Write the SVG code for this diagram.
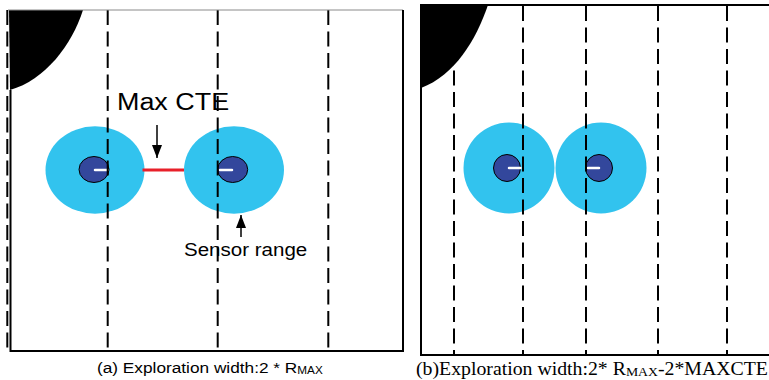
<svg xmlns="http://www.w3.org/2000/svg" width="769" height="380" viewBox="0 0 769 380">
<defs>
<style>
.dash{stroke:#000;stroke-width:2;stroke-dasharray:15 6.5;fill:none}
.border{stroke:#000;stroke-width:2;fill:none}
.range{fill:#32C3EE}
.robot{fill:#33479C;stroke:#000;stroke-width:1}
.head{stroke:#fff;stroke-width:2.5;stroke-linecap:round}
.obst{fill:#000}
.sans{font-family:"Liberation Sans",Arial,sans-serif;fill:#000}
.serif{font-family:"Liberation Serif","Times New Roman",serif;fill:#000}
.arrow{stroke:#000;stroke-width:1.5;fill:none}
.cte{stroke:#E8202A;stroke-width:3;fill:none}
</style>
<marker id="ah" viewBox="0 0 13 10" refX="13" refY="5" markerWidth="13" markerHeight="10" markerUnits="userSpaceOnUse" orient="auto">
<path d="M0,0 L13,5 L0,10 Z" fill="#000"/>
</marker>
</defs>
<rect x="0" y="0" width="769" height="380" fill="#fff"/>

<g id="panel-a">
<path id="obstacle-a" class="obst" d="M9,10 H83 C72,45 45,80 10,90 Z"/>
<g id="range-a1"><ellipse class="range" cx="95" cy="170" rx="49.5" ry="43.7"/></g>
<g id="range-a2"><ellipse class="range" cx="234" cy="170" rx="50" ry="43.7"/></g>
<g id="robot-a1"><ellipse class="robot" cx="94" cy="169.5" rx="15" ry="13"/><line class="head" x1="95" y1="170" x2="107.5" y2="170"/></g>
<g id="robot-a2"><ellipse class="robot" cx="232.7" cy="169.5" rx="15" ry="13"/><line class="head" x1="220" y1="170" x2="232" y2="170"/></g>
<text id="label-maxcte" class="sans" font-size="23" transform="translate(117,110) scale(1.17,1)">Max CTE</text>
<text id="label-sensor" class="sans" font-size="18.5" transform="translate(184,255.5) scale(1.11,1)">Sensor range</text>
<g id="lanes-a">
<line class="dash" x1="7.3" y1="10" x2="7.3" y2="350"/>
<line class="dash" x1="107.7" y1="10" x2="107.7" y2="350"/>
<line class="dash" x1="217.7" y1="10" x2="217.7" y2="350"/>
<line class="dash" x1="328.3" y1="10" x2="328.3" y2="350"/>
</g>
<line x1="8" y1="10" x2="403" y2="10" stroke="#8a8a8a" stroke-width="1"/>
<path class="border" d="M10.5,90 V351 H403 V10"/>
<text id="caption-a" class="sans" font-size="15.4" transform="translate(97,373) scale(1.12,1)">(a) Exploration width:2 * R<tspan font-size="10.5" dy="1">MAX</tspan></text>
</g>

<g id="panel-b">
<path id="obstacle-b" class="obst" d="M421,5 H488 C476,40 455,75 421,88 Z"/>
<g id="range-b1"><circle class="range" cx="509" cy="168" r="45.5"/></g>
<g id="range-b2"><circle class="range" cx="601" cy="168" r="45.5"/></g>
<g id="robot-b1"><circle class="robot" cx="507" cy="168" r="13.5"/><line class="head" x1="509" y1="168" x2="520.5" y2="168"/></g>
<g id="robot-b2"><circle class="robot" cx="599" cy="168" r="13.5"/><line class="head" x1="588" y1="168" x2="599" y2="168"/></g>
<g id="lanes-b">
<line class="dash" x1="454" y1="6" x2="454" y2="355"/>
<line class="dash" x1="523" y1="6" x2="523" y2="355"/>
<line class="dash" x1="586" y1="6" x2="586" y2="355"/>
<line class="dash" x1="658" y1="6" x2="658" y2="355"/>
<line class="dash" x1="727" y1="6" x2="727" y2="355"/>
</g>
<path class="border" d="M769,5 H421 V355 H769"/>
<text id="caption-b" class="serif" font-size="18" transform="translate(416,375) scale(1.1,1)">(b)Exploration width:2* R<tspan font-size="12.5" dy="1">MAX</tspan><tspan dy="-1">-2*MAXCTE</tspan></text>
</g>

<g id="connectors">
<line class="cte" x1="142.5" y1="170" x2="184" y2="170"/>
<line class="arrow" x1="157" y1="125" x2="157" y2="158" marker-end="url(#ah)"/>
<line class="arrow" x1="241" y1="237" x2="241" y2="215" marker-end="url(#ah)"/>
</g>
</svg>
